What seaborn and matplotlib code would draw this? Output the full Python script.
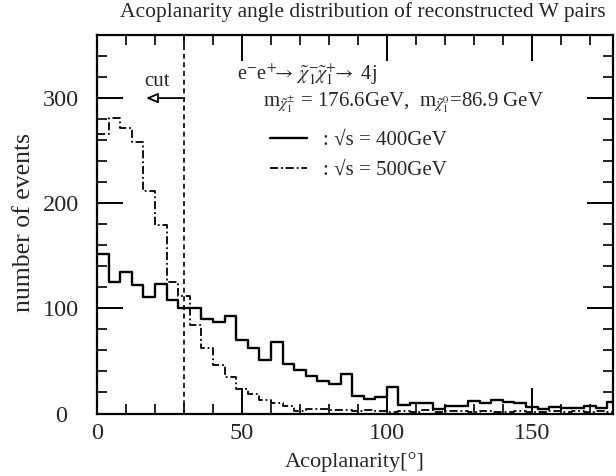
import numpy as np
import pandas as pd
import matplotlib
matplotlib.use("Agg")
import matplotlib.pyplot as plt
from matplotlib.ticker import MultipleLocator
import seaborn as sns

# Acoplanarity histograms, 4-degree bins starting at 0
bin_width = 4.0
counts_400 = [152, 125, 135, 122, 111, 123, 108, 100, 100, 90,
              87, 93, 70, 62, 51, 68, 47, 41, 36, 31,
              28, 38, 17, 14, 16, 25, 8, 10, 10, 4,
              7, 7, 12, 10, 13, 11, 10, 6, 4, 6,
              5, 5, 7, 5, 11]
counts_500 = [266, 281, 272, 258, 212, 179, 125, 112, 84, 62,
              46, 35, 23, 19, 13, 10, 7, 2, 4, 4,
              3, 3, 2, 3, 2, 1, 2, 1, 3, 1,
              2, 2, 1, 2, 1, 1, 2, 1, 1, 2,
              1, 2, 1, 2, 1]
cut_angle = 30
x_ticks = [0, 50, 100, 150]
y_ticks = [0, 100, 200, 300]

n_bins = len(counts_400)
centers = np.arange(n_bins) * bin_width + bin_width / 2
df400 = pd.DataFrame({"acop": centers, "events": counts_400})
df500 = pd.DataFrame({"acop": centers, "events": counts_500})
hist_range = (0, n_bins * bin_width)

sns.set_style("ticks")
plt.rcParams["font.family"] = ["Liberation Serif", "DejaVu Serif"]
plt.rcParams["mathtext.fontset"] = "stix"

fig = plt.figure(figsize=(6.16, 4.76), dpi=100)
ax = fig.add_axes([97 / 616, 1 - 413.5 / 476, 516 / 616, 378.5 / 476])

sns.histplot(data=df400, x="acop", weights="events", binwidth=bin_width,
             binrange=hist_range, element="step", fill=False,
             color="black", linewidth=1.7, ax=ax)
sns.histplot(data=df500, x="acop", weights="events", binwidth=bin_width,
             binrange=hist_range, element="step", fill=False,
             color="black", linewidth=1.3,
             linestyle=(0, (4.5, 1.6, 1.0, 1.6)), ax=ax)
line400, line500 = ax.lines[0], ax.lines[1]

ax.axvline(cut_angle, color="black", linewidth=1.2, linestyle=(0, (3, 2.2)))

ax.set_xlim(0, 178)
ax.set_ylim(0, 360)
ax.set_xticks(x_ticks)
ax.set_yticks(y_ticks)
ax.xaxis.set_minor_locator(MultipleLocator(10))
ax.yaxis.set_minor_locator(MultipleLocator(20))
ax.tick_params(which="both", direction="in", top=True, right=True,
               color="black", labelsize=17.5)
ax.tick_params(which="major", length=19, width=1.4)
ax.tick_params(which="minor", length=7, width=1.2)
ax.tick_params(axis="x", which="major", pad=7)
ax.tick_params(axis="y", which="major", pad=26)
for lab in ax.get_yticklabels():
    lab.set_ha("center")
for sp in ax.spines.values():
    sp.set_linewidth(1.6)
    sp.set_color("black")

ax.set_xlabel("Acoplanarity[°]", fontsize=16)
ax.set_ylabel("number of events", fontsize=18.5)
ax.xaxis.label.set_va("center")
ax.yaxis.label.set_va("center")
ax.xaxis.set_label_coords(0.5, (413.5 - 462) / 378.5)
ax.yaxis.set_label_coords((24 - 97) / 516, (413.5 - 222.5) / 378.5)

fig.text(363 / 616, 1 - 12 / 476,
         "Acoplanarity angle distribution of reconstructed W pairs",
         ha="center", va="center", fontsize=15.5)

# cut marker
ax.annotate("", xy=(16.9, 300), xytext=(cut_angle, 300),
            arrowprops=dict(arrowstyle="-|>,head_length=0.7,head_width=0.3",
                            fc="white", ec="black", lw=1.3,
                            shrinkA=0, shrinkB=0))
ax.text(20.7, 316, "cut", ha="center", va="center", fontsize=15)

ax.text(48.3, 323,
        r"e$^{-}$e$^{+}\!\!\rightarrow\,\tilde{\chi}_1^{-}\!\tilde{\chi}_1^{+}\!\!\rightarrow$ 4j",
        ha="left", va="center", fontsize=14.5)
ax.text(57.2, 295.5,
        r"m$_{\tilde{\chi}_1^{\pm}}$ = 176.6GeV,  m$_{\tilde{\chi}_1^{0}}$=86.9 GeV",
        ha="left", va="center", fontsize=15)

leg = ax.legend(handles=[line400, line500],
                labels=[": √s = 400GeV", ": √s = 500GeV"],
                loc="center left", bbox_to_anchor=((270 - 97) / 516, (413.5 - 155) / 378.5),
                frameon=False, fontsize=15, borderpad=0, borderaxespad=0,
                handlelength=1.78, handletextpad=0.77, labelspacing=0.5)

fig.savefig("out.png", dpi=100)
